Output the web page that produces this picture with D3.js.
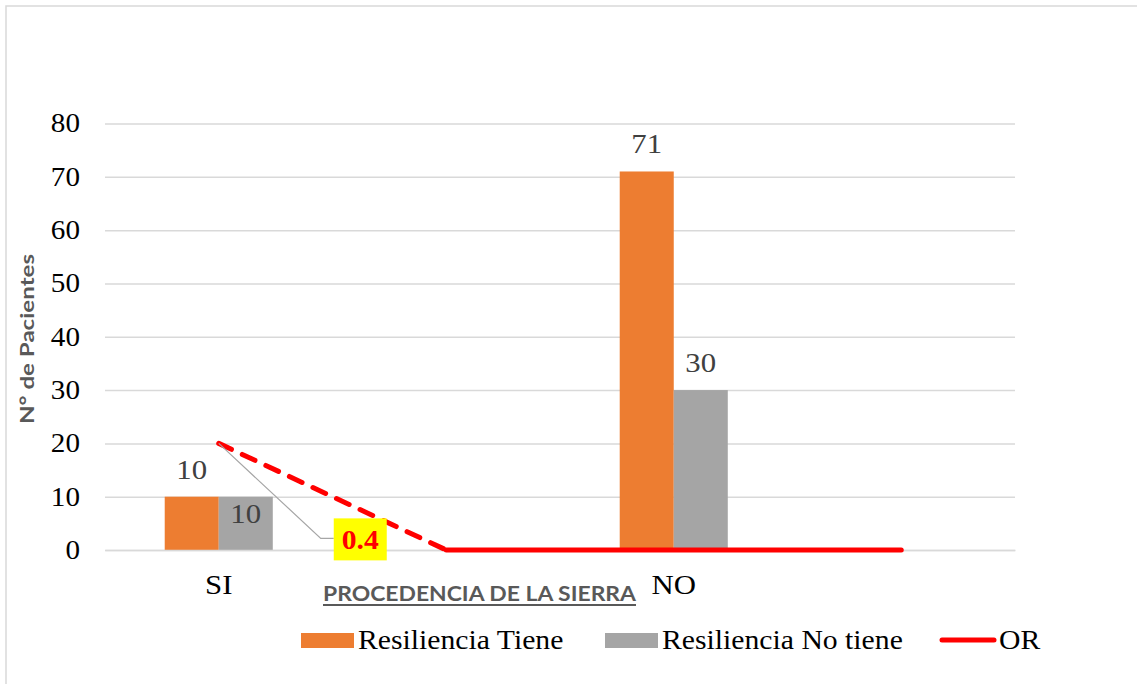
<!DOCTYPE html>
<html>
<head>
<meta charset="utf-8">
<script src="https://cdn.jsdelivr.net/npm/d3@7"></script>
<style>
  body { margin: 0; background: #fff; }
  svg { display: block; }
</style>
</head>
<body>
<svg id="chart" width="1137" height="684"></svg>
<script>
// values
var categories = ["SI", "", "NO", ""];
var seriesNames = ["Resiliencia Tiene", "Resiliencia No tiene"];
var tieneValues = [10, null, 71, null];
var noTieneValues = [10, null, 30, null];
var orValues = [20, 0, 0, 0];
var orLabel = "0.4";
var yTicks = [0, 10, 20, 30, 40, 50, 60, 70, 80];
var xTitle = "PROCEDENCIA DE LA SIERRA";
var yTitle = "N° de Pacientes";

var colors = ["#ed7d31", "#a5a5a5"];
var serif = "'Liberation Serif', 'Times New Roman', serif";
var sans = "Lato, 'Open Sans', sans-serif";

var svg = d3.select("#chart");

var plot = {left: 105, right: 1015, top: 123.5, bottom: 550};

// chart frame (only top and left edges are in view)
svg.append("rect")
    .attr("x", 6).attr("y", 6)
    .attr("width", 1200).attr("height", 800)
    .attr("fill", "none")
    .attr("stroke", "#d9d9d9")
    .attr("stroke-width", 1.5);

var x = d3.scaleBand()
    .domain(d3.range(categories.length))
    .range([plot.left, plot.right]);

var y = d3.scaleLinear()
    .domain([0, 80])
    .range([plot.bottom, plot.top]);

// gridlines
svg.append("g")
    .attr("class", "grid")
    .attr("transform", "translate(" + plot.left + ",0)")
    .call(d3.axisLeft(y).tickValues(yTicks).tickSize(-(plot.right - plot.left)).tickFormat(""))
    .call(function(g) { g.select(".domain").remove(); })
    .selectAll("line")
    .attr("stroke", "#d9d9d9")
    .attr("stroke-width", 1.5);

// y axis labels
var yAxis = svg.append("g")
    .attr("transform", "translate(" + plot.left + ",0)")
    .call(d3.axisLeft(y).tickValues(yTicks).tickSize(0).tickPadding(25));
yAxis.select(".domain").remove();
yAxis.selectAll("text")
    .attr("class", "tnr")
    .attr("font-family", serif)
    .attr("font-size", 26.5)
    .attr("fill", "#000");

// bars
var series = [tieneValues, noTieneValues];
var groupWidth = x.bandwidth() * 0.475;
var x1 = d3.scaleBand()
    .domain(d3.range(series.length))
    .range([0, groupWidth]);

var bars = [];
series.forEach(function(vals, s) {
    vals.forEach(function(v, i) {
        if (v !== null) bars.push({s: s, i: i, v: v});
    });
});

function barX(d) {
    return x(d.i) + x.bandwidth() / 2 - groupWidth / 2 + x1(d.s);
}

svg.append("g").selectAll("rect")
    .data(bars)
  .enter().append("rect")
    .attr("x", barX)
    .attr("y", function(d) { return y(d.v); })
    .attr("width", x1.bandwidth())
    .attr("height", function(d) { return y(0) - y(d.v); })
    .attr("fill", function(d) { return colors[d.s]; });

// data labels (the SI "No tiene" one sits inside the bar, as Excel moved it)
svg.append("g").selectAll("text")
    .data(bars)
  .enter().append("text")
    .attr("class", "tnr")
    .attr("x", function(d) { return barX(d) + x1.bandwidth() / 2; })
    .attr("y", function(d) {
        var inside = d.s === 1 && d.i === 0;
        return inside ? y(d.v) + 26 : y(d.v) - 18;
    })
    .attr("text-anchor", "middle")
    .attr("font-family", serif)
    .attr("font-size", 28)
    .attr("fill", "#404040")
    .text(function(d) { return d.v; });

// x axis labels
var xAxis = svg.append("g")
    .attr("transform", "translate(0," + plot.bottom + ")")
    .call(d3.axisBottom(x).tickSize(0).tickPadding(24).tickFormat(function(i) { return categories[i]; }));
xAxis.select(".domain")
    .attr("stroke", "#d9d9d9")
    .attr("stroke-width", 1.5);
xAxis.selectAll("text")
    .attr("class", "tnr")
    .attr("font-family", serif)
    .attr("font-size", 28)
    .attr("fill", "#000");

// OR line: first segment dashed, the rest solid
var orPts = orValues.map(function(v, i) { return [x(i) + x.bandwidth() / 2, y(v)]; });
var line = d3.line();

svg.append("path")
    .attr("d", line(orPts.slice(0, 2)))
    .attr("fill", "none")
    .attr("stroke", "#ff0000")
    .attr("stroke-width", 5)
    .attr("stroke-linecap", "round")
    .attr("stroke-dasharray", "14,12");

svg.append("path")
    .attr("d", line(orPts.slice(1)))
    .attr("fill", "none")
    .attr("stroke", "#ff0000")
    .attr("stroke-width", 5)
    .attr("stroke-linecap", "round")
    .attr("stroke-linejoin", "round");

// OR data label with leader line
var p0 = orPts[0];
svg.append("path")
    .attr("d", line([p0, [p0[0] + 102, p0[1] + 95], [p0[0] + 115, p0[1] + 95]]))
    .attr("fill", "none")
    .attr("stroke", "#a6a6a6")
    .attr("stroke-width", 1.2);

svg.append("rect")
    .attr("x", p0[0] + 115)
    .attr("y", p0[1] + 75)
    .attr("width", 53)
    .attr("height", 42)
    .attr("fill", "#ffff00");

svg.append("text")
    .attr("class", "tnr")
    .attr("x", p0[0] + 141.5)
    .attr("y", p0[1] + 106)
    .attr("text-anchor", "middle")
    .attr("font-family", serif)
    .attr("font-weight", "bold")
    .attr("font-size", 27)
    .attr("fill", "#ff0000")
    .text(orLabel);

// axis titles
svg.append("text")
    .attr("transform", "translate(34,339) rotate(-90)")
    .attr("text-anchor", "middle")
    .attr("font-family", sans)
    .attr("font-weight", "bold")
    .attr("font-size", 19)
    .attr("fill", "#595959")
    .attr("textLength", 170)
    .attr("lengthAdjust", "spacingAndGlyphs")
    .text(yTitle);

svg.append("text")
    .attr("x", 323)
    .attr("y", 601)
    .attr("font-family", sans)
    .attr("font-weight", "bold")
    .attr("font-size", 20.5)
    .attr("fill", "#595959")
    .attr("textLength", 313)
    .attr("lengthAdjust", "spacingAndGlyphs")
    .text(xTitle);

svg.append("line")
    .attr("x1", 323).attr("x2", 636)
    .attr("y1", 605).attr("y2", 605)
    .attr("stroke", "#595959")
    .attr("stroke-width", 2);

// legend
var legend = svg.append("g");
var swatchX = [301, 605];
seriesNames.forEach(function(name, s) {
    legend.append("rect")
        .attr("x", swatchX[s]).attr("y", 633)
        .attr("width", 53).attr("height", 15)
        .attr("fill", colors[s]);
    legend.append("text")
        .attr("class", "tnr")
        .attr("x", swatchX[s] + 57)
        .attr("y", 649)
        .attr("font-family", serif)
        .attr("font-size", 27)
        .attr("fill", "#000")
        .text(name);
});
legend.append("line")
    .attr("x1", 942).attr("x2", 994)
    .attr("y1", 640).attr("y2", 640)
    .attr("stroke", "#ff0000")
    .attr("stroke-width", 5)
    .attr("stroke-linecap", "round");
legend.append("text")
    .attr("class", "tnr")
    .attr("x", 999)
    .attr("y", 649)
    .attr("font-family", serif)
    .attr("font-size", 27)
    .attr("fill", "#000")
    .text("OR");

// the original picture is a little wider than tall, so widen the serif text
svg.selectAll("text.tnr").each(function() {
    var w = this.getComputedTextLength();
    d3.select(this)
        .attr("textLength", w * 1.1)
        .attr("lengthAdjust", "spacingAndGlyphs");
});
</script>
</body>
</html>
